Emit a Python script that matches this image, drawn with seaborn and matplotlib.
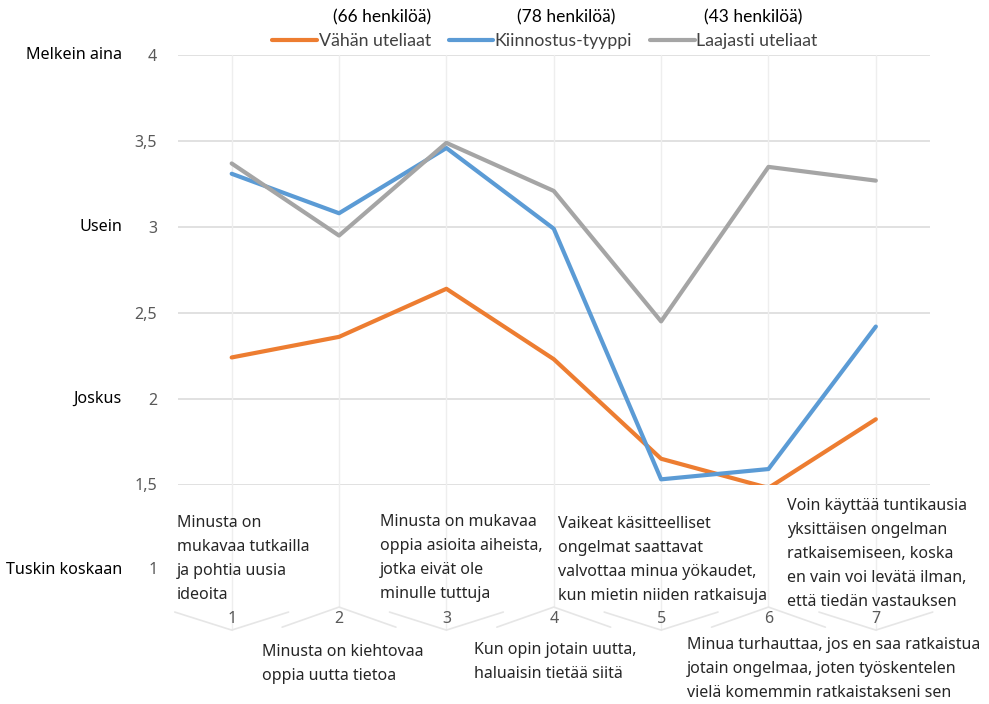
import matplotlib
matplotlib.use("Agg")
import matplotlib.pyplot as plt
import seaborn as sns
import pandas as pd

# --- data -------------------------------------------------------------
kohdat = [1, 2, 3, 4, 5, 6, 7]
ryhmat = ["Vähän uteliaat", "Kiinnostus-tyyppi", "Laajasti uteliaat"]
henkilot = ["(66 henkilöä)", "(78 henkilöä)", "(43 henkilöä)"]
vahan_uteliaat = [2.24, 2.36, 2.64, 2.23, 1.65, 1.48, 1.88]
kiinnostus_tyyppi = [3.31, 3.08, 3.46, 2.99, 1.53, 1.59, 2.42]
laajasti_uteliaat = [3.37, 2.95, 3.49, 3.21, 2.45, 3.35, 3.27]
y_ticks = [1.5, 2, 2.5, 3, 3.5, 4]
y_tick_labels = ["1,5", "2", "2,5", "3", "3,5", "4"]
asteikko = {4: "Melkein aina", 3: "Usein", 2: "Joskus", 1: "Tuskin koskaan"}
vaitteet = [
    "Minusta on\nmukavaa tutkailla\nja pohtia uusia\nideoita",
    "Minusta on kiehtovaa\noppia uutta tietoa",
    "Minusta on mukavaa\noppia asioita aiheista,\njotka eivät ole\nminulle tuttuja",
    "Kun opin jotain uutta,\nhaluaisin tietää siitä",
    "Vaikeat käsitteelliset\nongelmat saattavat\nvalvottaa minua yökaudet,\nkun mietin niiden ratkaisuja",
    "Minua turhauttaa, jos en saa ratkaistua\njotain ongelmaa, joten työskentelen\nvielä komemmin ratkaistakseni sen",
    "Voin käyttää tuntikausia\nyksittäisen ongelman\nratkaisemiseen, koska\nen vain voi levätä ilman,\nettä tiedän vastauksen",
]
varit = ["#ED7D31", "#5B9BD5", "#A5A5A5"]

df = pd.DataFrame({
    "kohta": kohdat * 3,
    "arvo": vahan_uteliaat + kiinnostus_tyyppi + laajasti_uteliaat,
    "ryhmä": sum([[r] * len(kohdat) for r in ryhmat], []),
})

# --- figure -----------------------------------------------------------
sns.set_theme(style="white")
plt.rcParams["font.family"] = ["Noto Sans", "DejaVu Sans"]
NARROW = ["Lato", "DejaVu Sans"]
W, H = 989, 704
fig = plt.figure(figsize=(W / 100, H / 100), dpi=100)
ax = fig.add_axes([178 / W, 1 - 484.5 / H, (929.5 - 178) / W, (484.5 - 55.3) / H])


def fx(px):
    return px / W


def fy(py):
    return 1 - py / H


ax.set_xlim(0.5, 7.5)
ax.set_ylim(1.5, 4)

# gridlines
for y in y_ticks:
    ax.axhline(y, color="#D9D9D9", lw=1.1, zorder=0)

# vertical guides running down to the category chevrons
VY, LY = 0.652, 0.786   # bottom of a "V", top of a "Λ" (data units)
AY_V, AY_L = 0.757, 0.669
for k in kohdat:
    tip = VY if k % 2 == 1 else LY
    arm = AY_V if k % 2 == 1 else AY_L
    ax.plot([k, k], [4, tip], color="#EEEEEE", lw=1, clip_on=False, zorder=0)
    ax.plot([k - 0.53, k, k + 0.53], [arm, tip, arm], color="#E6E6E6",
            lw=1.2, clip_on=False, zorder=0)

sns.lineplot(data=df, x="kohta", y="arvo", hue="ryhmä", hue_order=ryhmat,
             palette=varit, linewidth=3, ax=ax, legend=True, zorder=3)

for s in ax.spines.values():
    s.set_visible(False)

# y axis
ax.set_yticks(y_ticks)
ax.set_yticklabels(y_tick_labels)
ax.tick_params(axis="y", length=0, pad=15, labelsize=11.5, labelcolor="#595959")
ax.text(0.5 - 20 / 107.3, 1, "1", ha="right", va="center",
        fontsize=11.5, color="#595959", clip_on=False)
for v, lab in asteikko.items():
    ax.text(0.5 - 56 / 107.3, v, lab, ha="right", va="center",
            fontsize=11.6, color="#000000", clip_on=False)

# x axis numbers
ax.set_xticks(kohdat)
ax.set_xticklabels([str(k) for k in kohdat])
ax.tick_params(axis="x", length=0, pad=91, labelsize=11.5, labelcolor="#595959")
ax.set_xlabel("")
ax.set_ylabel("")

# statement texts below the axis
paikat = [(177, 515), (262, 644), (380, 514), (474, 642),
          (558, 516), (687, 637), (787, 498)]
for teksti, (px, py) in zip(vaitteet, paikat):
    fig.text(fx(px), fy(py), teksti, ha="left", va="top", fontsize=11.5,
             color="#262626", linespacing=1.66)

# legend
leg = ax.legend(loc="center", bbox_to_anchor=(fx(545), fy(41)),
                bbox_transform=fig.transFigure, ncol=3, frameon=False,
                handlelength=2.5, handletextpad=0.1, columnspacing=1.0,
                prop={"family": NARROW, "size": 12.8})
for line in leg.get_lines():
    line.set_linewidth(3)
for t in leg.get_texts():
    t.set_color("#404040")

for px, lab in zip([382, 566, 753], henkilot):
    fig.text(fx(px), fy(17), lab, ha="center", va="center",
             family=NARROW, fontsize=12.5, color="#000000")

fig.savefig("out.png", dpi=100)
